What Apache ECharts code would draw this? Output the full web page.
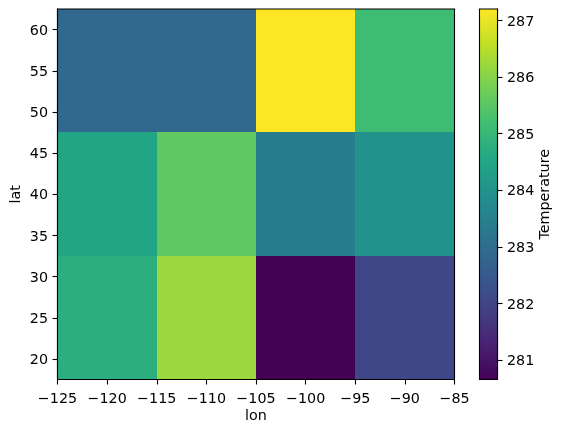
<!DOCTYPE html>
<html>
<head>
<meta charset="utf-8">
<style>
html, body { margin: 0; padding: 0; background: #fff; }
#main { width: 562px; height: 432px; }
</style>
<script src="https://cdn.jsdelivr.net/npm/echarts@6/dist/echarts.min.js"></script>
</head>
<body>
<div id="main"></div>
<script>
// cell edges
var lonEdges = [-125, -115, -105, -95, -85];
var latEdges = [17.5, 32.5, 47.5, 62.5];
// temperature per row, south to north
var tempSouth = [284.78, 286.2, 280.66, 282.05];
var tempMiddle = [284.5, 285.57, 283.35, 283.95];
var tempNorth = [282.85, 282.85, 287.2, 285.15];
var tempRows = [tempSouth, tempMiddle, tempNorth];

var lonTicks = [-125, -120, -115, -110, -105, -100, -95, -90, -85];
var latTicks = [20, 25, 30, 35, 40, 45, 50, 55, 60];
var tempTicks = [281, 282, 283, 284, 285, 286, 287];
var tempMin = 280.66;
var tempMax = 287.2;

// viridis
var viridis = ['#440154', '#482475', '#414487', '#355f8d', '#2a788e', '#21918c',
	'#22a884', '#44bf70', '#7ad151', '#bddf26', '#fde725'];

var font = 'DejaVu Sans';
var fontSize = 14.3;
var black = '#000';

var cells = [];
tempRows.forEach(function(row, r){
	row.forEach(function(t, c){
		cells.push([lonEdges[c], lonEdges[c + 1], latEdges[r], latEdges[r + 1], t]);
	});
});

function renderCell(params, api){
	// snap to whole pixels so no seams show between cells
	var x0 = Math.round(api.coord([api.value(0), 0])[0]);
	var x1 = Math.round(api.coord([api.value(1), 0])[0]);
	var y0 = Math.round(api.coord([-125, api.value(3)])[1]);
	var y1 = Math.round(api.coord([-125, api.value(2)])[1]);
	return {
		type: 'rect',
		shape: { x: x0, y: y0, width: x1 - x0, height: y1 - y0 },
		style: { fill: api.visual('color') }
	};
}

function renderBar(params, api){
	var p0 = api.coord([0, api.value(1)]);
	var p1 = api.coord([1, api.value(0)]);
	var stops = viridis.map(function(c, i){
		return { offset: 1 - i / (viridis.length - 1), color: c };
	});
	return {
		type: 'rect',
		shape: { x: p0[0], y: p0[1], width: p1[0] - p0[0], height: p1[1] - p0[1] },
		style: { fill: new echarts.graphic.LinearGradient(0, 0, 0, 1, stops) }
	};
}

function minus(v){
	return String(v).replace('-', '\u2212');
}

function axisBase(){
	return {
		nameMoveOverlap: false,
		axisLine: { show: true, onZero: false, lineStyle: { color: black, width: 1.1 } },
		axisTick: { show: true, length: 5, lineStyle: { color: black, width: 1.1 } },
		axisLabel: { color: black, fontFamily: font, fontSize: fontSize, margin: 9.5, formatter: minus },
		splitLine: { show: false },
		nameTextStyle: { color: black, fontFamily: font, fontSize: fontSize }
	};
}

var lonAxis = axisBase();
lonAxis.type = 'value';
lonAxis.gridIndex = 0;
lonAxis.min = -125;
lonAxis.max = -85;
lonAxis.name = 'lon';
lonAxis.nameLocation = 'middle';
lonAxis.nameGap = 30;
lonAxis.axisTick.customValues = lonTicks;
lonAxis.axisLabel.customValues = lonTicks;
lonAxis.axisLabel.margin = 12.5;

var latAxis = axisBase();
latAxis.type = 'value';
latAxis.gridIndex = 0;
latAxis.min = 17.5;
latAxis.max = 62.5;
latAxis.name = 'lat';
latAxis.nameLocation = 'middle';
latAxis.nameGap = 34;
latAxis.axisTick.customValues = latTicks;
latAxis.axisLabel.customValues = latTicks;
// nudges the labels a little below their ticks
latAxis.axisLabel.verticalAlign = 'top';
latAxis.axisLabel.lineHeight = 3;

var barX = { type: 'value', gridIndex: 1, min: 0, max: 1, show: false };

var barY = axisBase();
barY.type = 'value';
barY.gridIndex = 1;
barY.position = 'right';
barY.min = tempMin;
barY.max = tempMax;
barY.name = 'Temperature';
barY.nameLocation = 'middle';
barY.nameGap = 41;
barY.axisTick.customValues = tempTicks;
barY.axisLabel.customValues = tempTicks;
barY.axisLabel.verticalAlign = 'top';
barY.axisLabel.lineHeight = 3;

var option = {
	backgroundColor: '#fff',
	animation: false,
	grid: [
		{ left: 57.5, top: 9, width: 397, height: 370.5, show: true, z: 5, outerBoundsMode: 'none',
			backgroundColor: 'transparent', borderColor: black, borderWidth: 1.1 },
		{ left: 479.5, top: 9, width: 18, height: 370.5, show: true, z: 5, outerBoundsMode: 'none',
			backgroundColor: 'transparent', borderColor: black, borderWidth: 1.1 }
	],
	xAxis: [lonAxis, barX],
	yAxis: [latAxis, barY],
	visualMap: {
		show: false,
		type: 'continuous',
		seriesIndex: 0,
		dimension: 4,
		min: tempMin,
		max: tempMax,
		inRange: { color: viridis }
	},
	series: [
		{
			type: 'custom',
			xAxisIndex: 0,
			yAxisIndex: 0,
			renderItem: renderCell,
			encode: { x: [0, 1], y: [2, 3] },
			data: cells
		},
		{
			type: 'custom',
			xAxisIndex: 1,
			yAxisIndex: 1,
			renderItem: renderBar,
			data: [[tempMin, tempMax]]
		}
	]
};

var myChart = echarts.init(document.getElementById('main'), null, { renderer: 'canvas' });
myChart.setOption(option);
</script>
</body>
</html>
